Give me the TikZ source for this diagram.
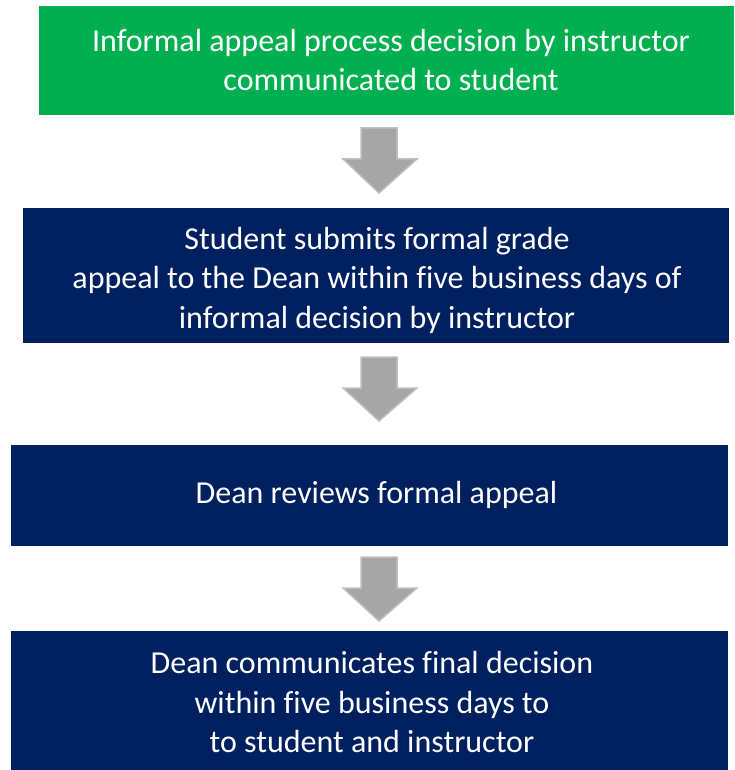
\documentclass[tikz,border=0pt]{standalone}
\usepackage{fontspec}
\setmainfont[Ligatures=CommonOff]{Carlito}
\definecolor{boxgreen}{HTML}{00B050}
\definecolor{boxnavy}{HTML}{002060}
\definecolor{arrowfill}{HTML}{A6A6A6}
\definecolor{arrowedge}{HTML}{BFBFBF}
\begin{document}
\begin{tikzpicture}[x=1pt,y=-1pt,
  boxshape/.style={inner sep=0pt, outer sep=0pt, draw=none},
  boxtext/.style={text=white, align=center, font=\fontsize{32}{39.5}\selectfont, inner sep=0pt},
  blockarrow/.style={fill=arrowfill, draw=arrowedge, line width=1.5pt, line join=miter}]
\useasboundingbox (0,0) rectangle (734,770);
% boxes
\fill[boxgreen] (39,6) rectangle (734,115);
\fill[boxnavy] (23,208) rectangle (729,343);
\fill[boxnavy] (11,445) rectangle (728,546);
\fill[boxnavy] (11,631) rectangle (728,771);
\node[boxshape, minimum width=695pt, minimum height=109pt] (b1) at (386.5,60.5) {};
\node[boxshape, minimum width=706pt, minimum height=135pt] (b2) at (376,275.5) {};
\node[boxshape, minimum width=717pt, minimum height=101pt] (b3) at (369.5,495.5) {};
\node[boxshape, minimum width=717pt, minimum height=140pt] (b4) at (369.5,701) {};
% texts
\node[boxtext] (t1) at (391,60) {Informal appeal process decision by instructor\\communicated to student};
\node[boxtext] (t2) at (377,280) {Student submits formal grade\\appeal to the Dean within five business days of\\informal decision by instructor};
\node[boxtext] (t3) at (376.5,495) {Dean reviews formal appeal};
\node[boxtext] (t4) at (372,702) {Dean communicates final decision\\within five business days to\\to student and instructor};
% block arrows
\foreach \top/\mid/\tip in {128/159/193, 357/388/421, 557/588/621}{
  \draw[blockarrow] (361,\top) -- (397,\top) -- (397,\mid) -- (417,\mid) -- (379,\tip) -- (343,\mid) -- (361,\mid) -- cycle;
}
\end{tikzpicture}
\end{document}
